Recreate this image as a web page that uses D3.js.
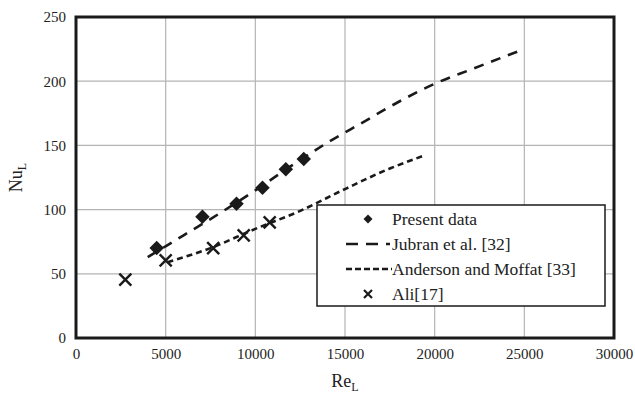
<!DOCTYPE html>
<html>
<head>
<meta charset="utf-8">
<script src="https://cdn.jsdelivr.net/npm/d3@7"></script>
</head>
<body style="margin:0;background:#fff">
<svg width="635" height="394"></svg>
<script>
// values
const presentRe = [4500, 7050, 8950, 10400, 11700, 12700]
const presentNu = [70, 94.5, 104.5, 117, 131.5, 139.5]

const aliRe = [2750, 5000, 7650, 9350, 10800]
const aliNu = [45.5, 60.5, 70, 80, 90]

const jubranRe = [4000, 6000, 8000, 10000, 12000, 14000, 16000, 18000, 20000, 22000, 24800]
const jubranNu = [63, 80, 97, 115, 134, 152, 168, 184, 198, 209, 224]

const andersonRe = [5100, 7500, 10000, 12500, 15000, 17500, 19400]
const andersonNu = [59, 70, 85, 99, 116, 132, 142]

const xTicks = [0, 5000, 10000, 15000, 20000, 25000, 30000]
const yTicks = [0, 50, 100, 150, 200, 250]

const legendItems = [
  { label: 'Present data', kind: 'diamond' },
  { label: 'Jubran et al. [32]', kind: 'long' },
  { label: 'Anderson and Moffat [33]', kind: 'short' },
  { label: 'Ali[17]', kind: 'cross' }
]

const SERIF = '"Liberation Serif", "Times New Roman", serif'
const zip = (xs, ys) => xs.map((x, i) => ({ x, y: ys[i] }))

const svg = d3.select('svg').style('font-family', SERIF)
const margin = { left: 76, right: 21, top: 17, bottom: 56 }
const W = 635, H = 394

const x = d3.scaleLinear().domain([0, 30000]).range([margin.left, W - margin.right])
const y = d3.scaleLinear().domain([0, 250]).range([H - margin.bottom, margin.top])

// grid
svg.append('g')
  .selectAll('line')
  .data(xTicks)
  .join('line')
  .attr('x1', d => x(d)).attr('x2', d => x(d))
  .attr('y1', y(0)).attr('y2', y(250))
  .attr('stroke', '#b4b4b4').attr('stroke-width', 1.2)
svg.append('g')
  .selectAll('line')
  .data(yTicks)
  .join('line')
  .attr('x1', x(0)).attr('x2', x(30000))
  .attr('y1', d => y(d)).attr('y2', d => y(d))
  .attr('stroke', '#b4b4b4').attr('stroke-width', 1.2)

// axes (labels only, frame drawn separately)
const xAxis = svg.append('g')
  .attr('transform', `translate(0,${y(0)})`)
  .call(d3.axisBottom(x).tickValues(xTicks).tickSize(0).tickPadding(10).tickFormat(d3.format('d')))
xAxis.select('.domain').remove()
xAxis.selectAll('text').style('font-family', SERIF).style('font-size', '15px').attr('fill', '#222')

const yAxis = svg.append('g')
  .attr('transform', `translate(${x(0)},0)`)
  .call(d3.axisLeft(y).tickValues(yTicks).tickSize(0).tickPadding(10))
yAxis.select('.domain').remove()
yAxis.selectAll('text').style('font-family', SERIF).style('font-size', '15px').attr('fill', '#222')

// frame
svg.append('rect')
  .attr('x', x(0)).attr('y', y(250))
  .attr('width', x(30000) - x(0)).attr('height', y(0) - y(250))
  .attr('fill', 'none').attr('stroke', '#1a1a1a').attr('stroke-width', 3)

// axis titles
const xt = svg.append('text')
  .attr('x', (x(0) + x(30000)) / 2).attr('y', 387)
  .attr('text-anchor', 'middle').style('font-size', '18px').attr('fill', '#222')
xt.append('tspan').text('Re')
xt.append('tspan').text('L').style('font-size', '12px').attr('dy', 4)

const yt = svg.append('text')
  .attr('transform', `translate(22,${(y(0) + y(250)) / 2}) rotate(-90)`)
  .attr('text-anchor', 'middle').style('font-size', '18px').attr('fill', '#222')
yt.append('tspan').text('Nu')
yt.append('tspan').text('L').style('font-size', '12px').attr('dy', 4)

const line = d3.line().x(d => x(d.x)).y(d => y(d.y)).curve(d3.curveMonotoneX)

svg.append('path')
  .datum(zip(jubranRe, jubranNu))
  .attr('d', line)
  .attr('fill', 'none').attr('stroke', '#1a1a1a').attr('stroke-width', 2.6)
  .attr('stroke-dasharray', '10,8')

svg.append('path')
  .datum(zip(andersonRe, andersonNu))
  .attr('d', line)
  .attr('fill', 'none').attr('stroke', '#1a1a1a').attr('stroke-width', 2.6)
  .attr('stroke-dasharray', '6,4')

svg.append('g')
  .selectAll('path')
  .data(zip(presentRe, presentNu))
  .join('path')
  .attr('transform', d => `translate(${x(d.x)},${y(d.y)}) rotate(45)`)
  .attr('d', d3.symbol().type(d3.symbolSquare).size(105))
  .attr('fill', '#1a1a1a')

const crossPath = s => `M${-s},${-s}L${s},${s}M${-s},${s}L${s},${-s}`
svg.append('g')
  .selectAll('path')
  .data(zip(aliRe, aliNu))
  .join('path')
  .attr('transform', d => `translate(${x(d.x)},${y(d.y)})`)
  .attr('d', crossPath(6))
  .attr('stroke', '#1a1a1a').attr('stroke-width', 2.4).attr('fill', 'none')

// legend
const lg = svg.append('g').attr('transform', 'translate(317,205)')
lg.append('rect')
  .attr('width', 288).attr('height', 101)
  .attr('fill', '#fff').attr('stroke', '#1a1a1a').attr('stroke-width', 1.5)
const row = lg.selectAll('g.row')
  .data(legendItems)
  .join('g')
  .attr('transform', (d, i) => `translate(0,${14 + i * 25})`)
row.append('text')
  .attr('x', 75).attr('dy', '0.35em')
  .style('font-size', '17.5px').attr('fill', '#222')
  .text(d => d.label)
row.each(function (d) {
  const g = d3.select(this)
  if (d.kind === 'diamond') {
    g.append('path')
      .attr('transform', 'translate(51,0) rotate(45)')
      .attr('d', d3.symbol().type(d3.symbolSquare).size(40))
      .attr('fill', '#1a1a1a')
  } else if (d.kind === 'cross') {
    g.append('path')
      .attr('transform', 'translate(51,0)')
      .attr('d', crossPath(4))
      .attr('stroke', '#1a1a1a').attr('stroke-width', 2.2)
  } else {
    g.append('line')
      .attr('x1', 29).attr('x2', d.kind === 'long' ? 73 : 75)
      .attr('stroke', '#1a1a1a').attr('stroke-width', 2.6)
      .attr('stroke-dasharray', d.kind === 'long' ? '12,8' : '6,3')
  }
})
</script>
</body>
</html>
